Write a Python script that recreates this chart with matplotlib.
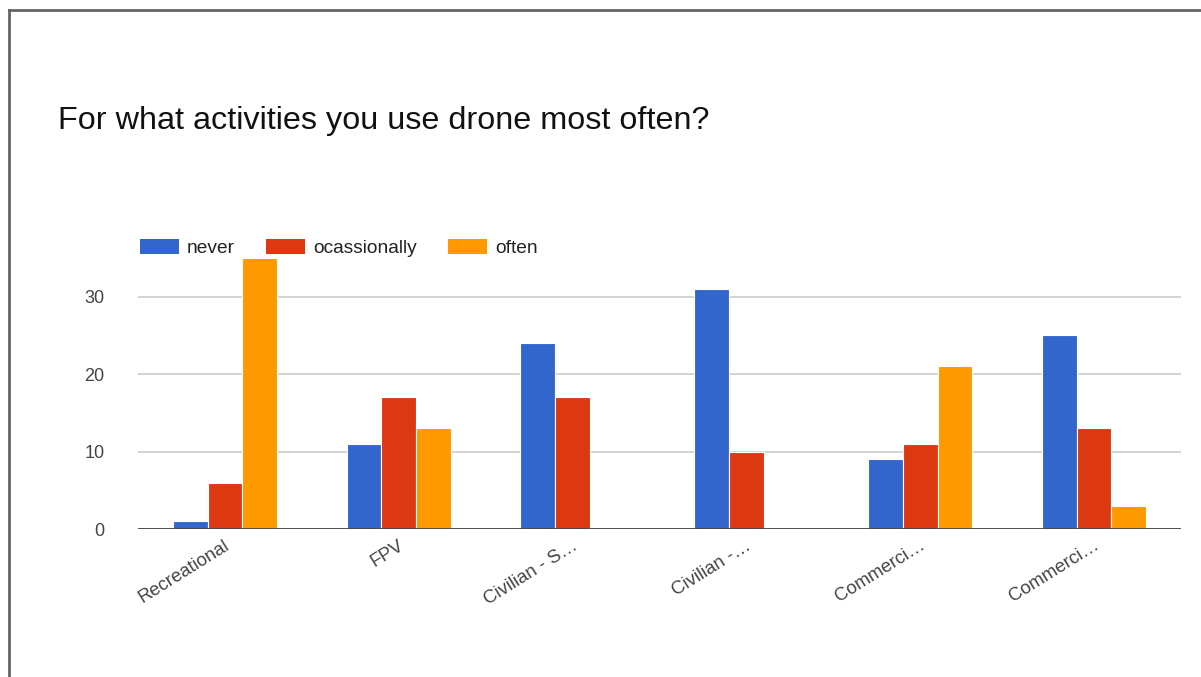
import numpy as np
import matplotlib.pyplot as plt
from matplotlib.patches import Patch
from matplotlib.lines import Line2D

plt.rcParams['font.family'] = ['Liberation Sans', 'DejaVu Sans']

# Survey answers per activity
activities = ['Recreational', 'FPV', 'Civilian - S…', 'Civilian -…', 'Commerci…', 'Commerci…']
never = [1, 11, 24, 31, 9, 25]
occasionally = [6, 17, 17, 10, 11, 13]
often = [35, 13, 0, 0, 21, 3]

series_names = ['never', 'ocassionally', 'often']
series_colors = ['#3366cc', '#dc3912', '#ff9900']
y_ticks = [0, 10, 20, 30]

W, H = 1201, 677
fig = plt.figure(figsize=(W / 100, H / 100), dpi=100)
fig.patch.set_facecolor('white')

ax = fig.add_axes([138 / W, 148 / H, (1181 - 138) / W, (529 - 258) / H])

x = np.arange(len(activities))
width = 0.2
for i, (vals, color) in enumerate(zip([never, occasionally, often], series_colors)):
    ax.bar(x + (i - 1) * width, vals, width, color=color,
           edgecolor='white', linewidth=0.8, zorder=3)

ax.set_xlim(-0.5, len(activities) - 0.5)
ax.set_ylim(0, 35)
ax.set_yticks(y_ticks)
ax.set_yticklabels([str(t) for t in y_ticks])
ax.yaxis.grid(True, color='#cccccc', linewidth=1.2, zorder=0)
ax.axhline(0, color='#444444', linewidth=2, zorder=4)
for side in ['top', 'right', 'left', 'bottom']:
    ax.spines[side].set_visible(False)
ax.tick_params(axis='y', length=0, pad=24, labelsize=13, labelcolor='#444444')
ax.tick_params(axis='x', length=0, pad=11, labelsize=13.3, labelcolor='#444444')

ax.set_xticks(x + 0.02)
ax.set_xticklabels(activities, rotation=32, ha='right', va='center',
                   rotation_mode='anchor')

# legend row above the plot
handles = [Patch(facecolor=c, edgecolor='none') for c in series_colors]
fig.legend(handles, series_names, loc='center left',
           bbox_to_anchor=(123 / W, 1 - 248 / H), ncol=3, frameon=False,
           fontsize=13.8, handlelength=2.0, handleheight=0.85,
           handletextpad=0.43, columnspacing=1.65, labelcolor='#222222')

fig.text(58 / W, 1 - 121 / H, 'For what activities you use drone most often?',
         fontsize=23.3, color='#111111', va='center', ha='left')

# outer frame of the card
fig.add_artist(Line2D([9 / W, 1], [1 - 10 / H, 1 - 10 / H], color='#666666',
                      linewidth=2, transform=fig.transFigure))
fig.add_artist(Line2D([9 / W, 9 / W], [0, 1 - 10 / H], color='#666666',
                      linewidth=2, transform=fig.transFigure))

fig.savefig('out.png', dpi=100)
